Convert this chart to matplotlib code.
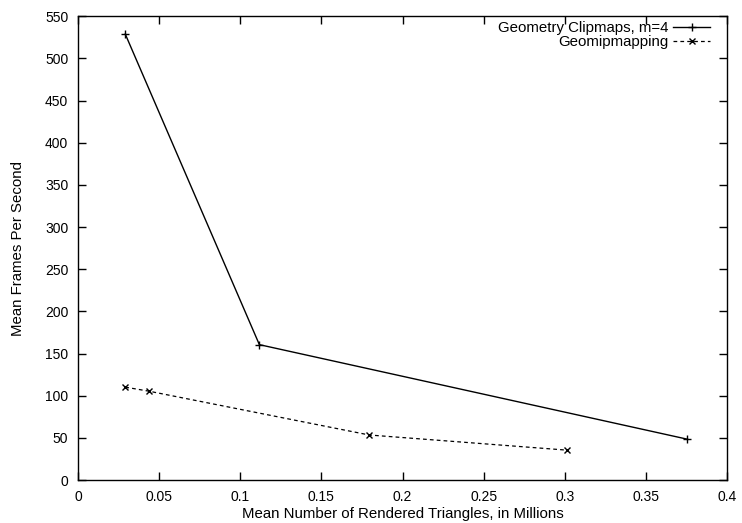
import matplotlib
matplotlib.use('Agg')
import matplotlib.pyplot as plt

plt.rcParams['font.family'] = ['Liberation Sans', 'DejaVu Sans']

# Geometry Clipmaps, m=4
clip_x = [0.0292, 0.1118, 0.3755]
clip_y = [528.7, 160.6, 48.5]

# Geomipmapping
geo_x = [0.0292, 0.0436, 0.1795, 0.3015]
geo_y = [110.2, 105.5, 53.5, 35.5]

x_ticks = [0, 0.05, 0.1, 0.15, 0.2, 0.25, 0.3, 0.35, 0.4]
x_tick_labels = ['0', '0.05', '0.1', '0.15', '0.2', '0.25', '0.3', '0.35', '0.4']
y_ticks = list(range(0, 551, 50))

fig = plt.figure(figsize=(7.42, 5.23), dpi=100)
ax = fig.add_axes([0.105, 0.082, 0.875, 0.887])

ax.plot(clip_x, clip_y, color='black', lw=1.0, marker='+', ms=6, mew=1.0,
        label='Geometry Clipmaps, m=4')
ax.plot(geo_x, geo_y, color='black', lw=0.9, ls=(0, (3, 2.5)), marker='x', ms=5,
        mew=1.0, label='Geomipmapping')

ax.set_xlim(0, 0.4)
ax.set_ylim(0, 550)
ax.set_xticks(x_ticks)
ax.set_xticklabels(x_tick_labels)
ax.set_yticks(y_ticks)
ax.tick_params(direction='in', top=True, right=True, length=6, width=1.0,
               labelsize=10, pad=7)
for s in ax.spines.values():
    s.set_linewidth(1.0)

ax.set_xlabel('Mean Number of Rendered Triangles, in Millions', fontsize=10.8, labelpad=2)
ax.set_ylabel('Mean Frames Per Second', fontsize=10.8, labelpad=14)

ax.legend(loc='upper right', bbox_to_anchor=(0.974, 0.99), frameon=False,
          markerfirst=False, fontsize=10.8, handlelength=2.5, handletextpad=0.3,
          labelspacing=0.0, borderpad=0, borderaxespad=0)

fig.savefig('out.png', dpi=100)
